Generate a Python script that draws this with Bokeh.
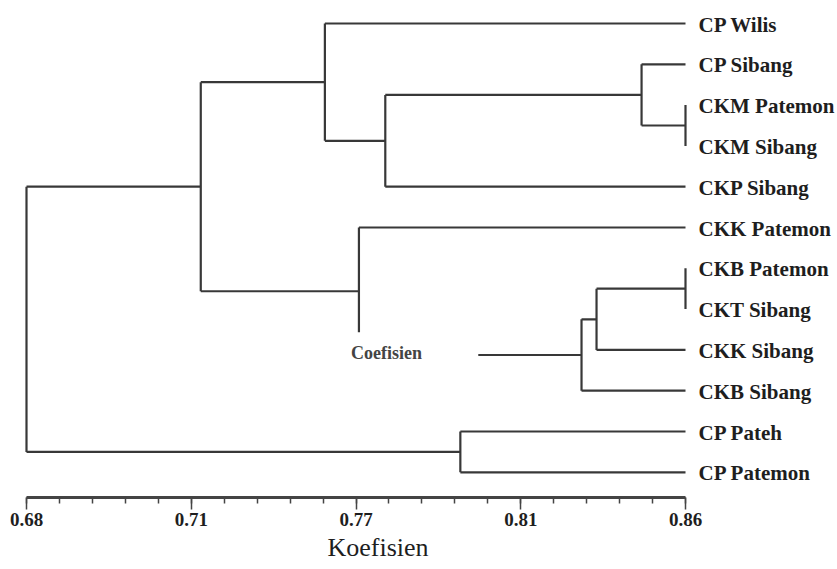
from bokeh.plotting import figure
from bokeh.models import Range1d, FixedTicker, LinearAxis, ColumnDataSource, Title
from bokeh.core.properties import value
from bokeh.embed import file_html
from bokeh.resources import INLINE

# ---------------- data ----------------
leaves = ["CP Wilis", "CP Sibang", "CKM Patemon", "CKM Sibang", "CKP Sibang",
          "CKK Patemon", "CKB Patemon", "CKT Sibang", "CKK Sibang", "CKB Sibang",
          "CP Pateh", "CP Patemon"]
leaf_coef = 0.86
# merges: (child a, child b, coefficient); new cluster ids start at len(leaves)
merge_a = [2, 1, 13, 0, 6, 16, 17, 5, 15, 10, 20]
merge_b = [3, 12, 4, 14, 7, 8, 9, 18, 19, 11, 21]
merge_coef = [0.86, 0.848, 0.778, 0.7615, 0.86, 0.8357, 0.8316, 0.7708, 0.7276, 0.7985, 0.680]
# the drawing is broken where the "Coefisien" note sits (merge id 19)
broken_merge = 19
broken_vert_end = 7.57       # vertical stops here (leaf units)
broken_horiz_start = 0.8034  # horizontal resumes here (coefficient)
note_text = "Coefisien"

tick_values = [0.68, 0.725, 0.77, 0.815, 0.86]
tick_labels = ["0.68", "0.71", "0.77", "0.81", "0.86"]
minor_tick_values = [0.68, 0.689, 0.698, 0.707, 0.716, 0.725, 0.734, 0.743, 0.752, 0.761,
                     0.77, 0.779, 0.788, 0.797, 0.806, 0.815, 0.824, 0.833, 0.842, 0.851, 0.86]
x_title = "Koefisien"

# ---------------- dendrogram geometry ----------------
n = len(leaves)
pos_y = {i: float(i) for i in range(n)}
pos_x = {i: leaf_coef for i in range(n)}
x0s, y0s, x1s, y1s = [], [], [], []
note_y = None
for k, (a, b, c) in enumerate(zip(merge_a, merge_b, merge_coef)):
    cid = n + k
    ya, yb = pos_y[a], pos_y[b]
    top, bot = min(ya, yb), max(ya, yb)
    if cid == broken_merge:
        x0s.append(c); y0s.append(top); x1s.append(c); y1s.append(broken_vert_end)
        for ch in (a, b):
            if pos_y[ch] == top:
                x0s.append(c); y0s.append(pos_y[ch]); x1s.append(pos_x[ch]); y1s.append(pos_y[ch])
            else:
                note_y = pos_y[ch]
                x0s.append(broken_horiz_start); y0s.append(pos_y[ch]); x1s.append(pos_x[ch]); y1s.append(pos_y[ch])
    else:
        x0s.append(c); y0s.append(top); x1s.append(c); y1s.append(bot)
        for ch in (a, b):
            if pos_x[ch] != c:
                x0s.append(c); y0s.append(pos_y[ch]); x1s.append(pos_x[ch]); y1s.append(pos_y[ch])
    pos_y[cid] = (ya + yb) / 2.0
    pos_x[cid] = c

# ---------------- figure ----------------
W, H = 837, 569
px_per_unit = 659 / 0.18
x_start = 0.68 - 26 / px_per_unit
x_end = x_start + W / px_per_unit
leaf_px = 40.8
frame_h = 497
y_top = -23 / leaf_px
y_bot = (frame_h - 23) / leaf_px

p = figure(width=W, height=H, output_backend="svg", toolbar_location=None,
           x_range=Range1d(x_start, x_end), y_range=Range1d(y_bot, y_top),
           y_axis_location=None, x_axis_location=None,
           min_border_left=0, min_border_right=0,
           min_border_top=0, min_border_bottom=H - frame_h)
p.outline_line_color = None
p.grid.visible = False
p.background_fill_color = "white"
p.border_fill_color = "white"

line_col = "#383838"
p.segment(x0=x0s, y0=y0s, x1=x1s, y1=y1s, line_color=line_col, line_width=2.2)

src = ColumnDataSource(dict(x=[leaf_coef] * n, y=list(range(n)), t=leaves))
p.text(x="x", y="y", text="t", source=src, x_offset=13, y_offset=1,
       text_font=value("Liberation Serif"), text_font_style="bold",
       text_font_size="21px", text_color="#1e1e1e",
       text_align="left", text_baseline="middle")

# note in the gap
p.text(x=[merge_coef[broken_merge - n]], y=[note_y], text=[note_text],
       x_offset=-8, y_offset=-2,
       text_font=value("Liberation Serif"), text_font_style="bold",
       text_font_size="18px", text_color="#444444",
       text_align="left", text_baseline="middle")

ax = LinearAxis(bounds=(0.68, 0.86))
ax.ticker = FixedTicker(ticks=tick_values, minor_ticks=minor_tick_values)
ax.major_label_overrides = {v: l for v, l in zip(tick_values, tick_labels)}
ax.axis_line_width = 3
ax.axis_line_color = "#444444"
ax.major_tick_out = 12
ax.major_tick_in = 0
ax.minor_tick_out = 6
ax.minor_tick_in = 0
ax.major_tick_line_width = 1.5
ax.minor_tick_line_width = 1.5
ax.major_tick_line_color = "#444444"
ax.minor_tick_line_color = "#444444"
ax.major_label_standoff = 3
ax.major_label_text_font = "Liberation Serif"
ax.major_label_text_font_style = "bold"
ax.major_label_text_font_size = "19px"
ax.major_label_text_color = "#1e1e1e"
p.add_layout(ax, "below")

p.add_layout(Title(text=x_title, align="left", offset=327, standoff=5,
                   text_font="Liberation Serif", text_font_style="normal",
                   text_font_size="26px", text_color="#1e1e1e"), "below")

open("out.html", "w").write(file_html(p, INLINE))
